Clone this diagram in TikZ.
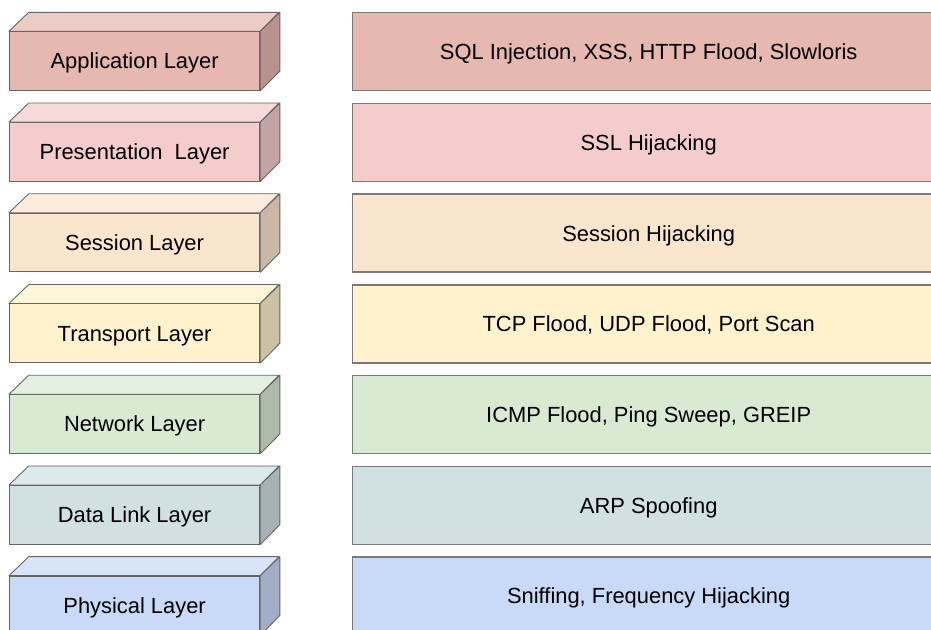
\documentclass[tikz,border=0pt]{standalone}
\usepackage{fontspec}
\setmainfont{Liberation Sans}

% OSI layer palette
\definecolor{appC}{HTML}{E6B8AF}
\definecolor{presC}{HTML}{F4CCCC}
\definecolor{sessC}{HTML}{FCE5CD}
\definecolor{transC}{HTML}{FFF2CC}
\definecolor{netC}{HTML}{D9EAD3}
\definecolor{linkC}{HTML}{D0E0E3}
\definecolor{physC}{HTML}{C9DAF8}
\definecolor{edgegray}{HTML}{666666}
\definecolor{boxgray}{HTML}{7A7A7A}

\tikzset{
  labelfont/.style={font=\fontsize{21.9}{26}\selectfont, text height=15.7pt, text depth=0pt},
  cubefront/.style={draw=edgegray, line width=0.9pt, inner sep=0pt,
    minimum width=250.3pt, minimum height=58.7pt, anchor=north west, labelfont},
  cubeface/.style={draw=edgegray, line width=0.9pt, line join=round},
  attackbox/.style={draw=boxgray, line width=1.4pt, inner sep=0pt,
    minimum width=592pt, minimum height=78pt, anchor=north west, labelfont},
}

\begin{document}
\begin{tikzpicture}[x=1pt, y=-1pt]
  \useasboundingbox (0,0) rectangle (931,629);
  \clip (0,0) rectangle (931,629);
  \foreach \i/\c/\l/\r in {
      0/appC/{Application Layer}/{SQL Injection, XSS, HTTP Flood, Slowloris},
      1/presC/{Presentation~~Layer}/{SSL Hijacking},
      2/sessC/{Session Layer}/{Session Hijacking},
      3/transC/{Transport Layer}/{TCP Flood, UDP Flood, Port Scan},
      4/netC/{Network Layer}/{ICMP Flood, Ping Sweep, GREIP},
      5/linkC/{Data Link Layer}/{ARP Spoofing},
      6/physC/{Physical Layer}/{Sniffing, Frequency Hijacking}} {
    \pgfmathsetmacro{\yb}{12.3 + \i*90.73}
    % layer block: front face, then top and side faces
    \node[cubefront, fill=\c] (front\i) at (9, \yb+19) {\l};
    \draw[cubeface, fill=\c!72!white]
      (front\i.north west) -- ++(19.7,-19) -- ++(250.3,0) -- (front\i.north east) -- cycle;
    \draw[cubeface, fill=\c!80!black]
      (front\i.north east) -- ++(19.7,-19) -- ++(0,58.7) -- (front\i.south east) -- cycle;
    % attacks on this layer
    \node[attackbox, fill=\c] (attack\i) at (352, \yb-0.3) {\r};
  }
\end{tikzpicture}
\end{document}
